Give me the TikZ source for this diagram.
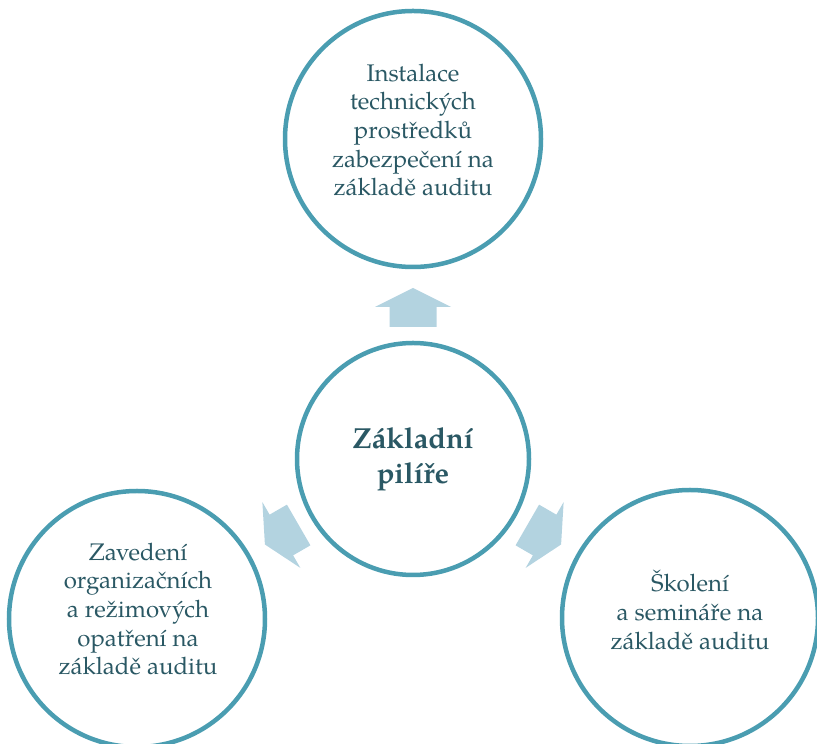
\documentclass[tikz,border=0pt]{standalone}
\usepackage{fontspec}
\setmainfont{TeX Gyre Pagella}
\usepackage{tikz}
\definecolor{kruh}{HTML}{4A9DB1}
\definecolor{sipka}{HTML}{B3D3E0}
\definecolor{pismo}{HTML}{2A5864}

\begin{document}
\begin{tikzpicture}[x=1pt,y=1pt,
		cil/.style={draw=kruh,line width=4.5pt,circle,minimum size=256pt,inner sep=0pt},
		stred/.style={draw=kruh,line width=4.5pt,circle,minimum size=232pt,inner sep=0pt,
			text=pismo,font=\fontsize{29}{35}\selectfont\bfseries,align=center},
		popis/.style={text=pismo,font=\fontsize{24}{28.7}\selectfont,align=center},
		blok/.style={fill=sipka}]
		\useasboundingbox (0,0) rectangle (817,744);

		%Uzly
		\node [stred] (zaklad) at (413,285) {Základní\\pilíře};
		\node [cil] (instalace) at (413,605) {};
		\node [cil] (zavedeni) at (137,125) {};
		\node [cil] (skoleni) at (690,126) {};

		%Texty
		\node [popis] (instalace-txt) at (413,614) {Instalace\\technických\\prostředků\\zabezpečení na\\základě auditu};
		\node [popis] (zavedeni-txt) at (138,135) {Zavedení\\organizačních\\a režimových\\opatření na\\základě auditu};
		\node [popis] (skoleni-txt) at (690,134) {Školení\\a semináře na\\základě auditu};

		%Sipky
		\foreach \uhel in {90,210,330}
		{
			\fill[blok,shift={(zaklad.center)},rotate=\uhel]
				(132,-23.5)--(152,-23.5)--(152,-38)--(171,0)--(152,38)--(152,23.5)--(132,23.5)--cycle;
		}
\end{tikzpicture}
\end{document}
